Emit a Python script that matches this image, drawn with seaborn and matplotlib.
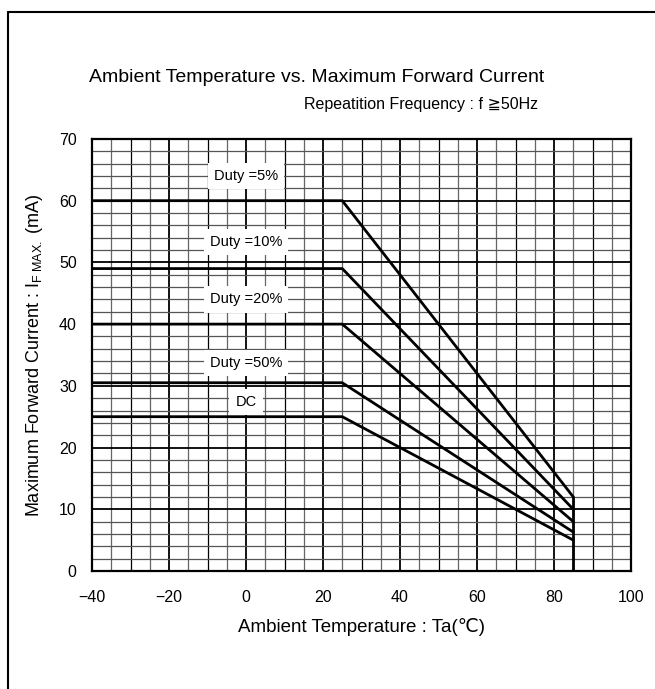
import numpy as np
import pandas as pd
import matplotlib
matplotlib.use('Agg')
import matplotlib.pyplot as plt
from matplotlib.lines import Line2D
import seaborn as sns

sns.set_style('white')
plt.rcParams['font.family'] = ['Liberation Sans', 'DejaVu Sans']
plt.rcParams['mathtext.fontset'] = 'custom'
plt.rcParams['mathtext.rm'] = 'Liberation Sans'
plt.rcParams['mathtext.it'] = 'Liberation Sans'
plt.rcParams['text.color'] = 'black'
plt.rcParams['axes.labelcolor'] = 'black'
plt.rcParams['xtick.color'] = 'black'
plt.rcParams['ytick.color'] = 'black'

#%% Data
series = ['Duty =5%', 'Duty =10%', 'Duty =20%', 'Duty =50%', 'DC']
temp_start = -40
temp_knee = 25
temp_end = 85
current_flat = [60, 49, 40, 30.5, 25]
current_end = [12, 10, 8, 6.3, 5]

x_ticks = [-40, -20, 0, 20, 40, 60, 80, 100]
y_ticks = [0, 10, 20, 30, 40, 50, 60, 70]

rows = []
for name, flat, end in zip(series, current_flat, current_end):
    for t, c in [(temp_start, flat), (temp_knee, flat), (temp_end, end)]:
        rows.append({'Ta': t, 'IF': c, 'series': name})
df = pd.DataFrame(rows)

#%% Figure
fig = plt.figure(figsize=(6.55, 6.89), dpi=100)
ax = fig.add_axes([0.1405, 0.1713, 0.8229, 0.627])

# grid: minor grey, every 10 on x black, majors heavier
for x in np.arange(-35, 100, 5):
    if x % 20 == 0:
        ax.axvline(x, color='black', lw=1.3, zorder=1)
    elif x % 10 == 0:
        ax.axvline(x, color='black', lw=0.9, zorder=1)
    else:
        ax.axvline(x, color='#666666', lw=0.9, zorder=1)
for y in np.arange(2, 70, 2):
    if y % 10 == 0:
        ax.axhline(y, color='black', lw=1.3, zorder=1)
    else:
        ax.axhline(y, color='#555555', lw=0.9, zorder=1)

sns.lineplot(data=df, x='Ta', y='IF', units='series', estimator=None,
             color='black', lw=2.0, ax=ax, zorder=3)
# cut-off at the max temperature
ax.plot([temp_end, temp_end], [0, max(current_end)], color='black', lw=2.0, zorder=3)

# series labels
label_y = [64, 53.3, 44, 33.7, 27.4]
for name, ly in zip(series, label_y):
    ax.text(0, ly, name, ha='center', va='center', fontsize=10.5, zorder=4,
            bbox=dict(facecolor='white', edgecolor='none', pad=4.5))

ax.set_xlim(-40, 100)
ax.set_ylim(0, 70)
ax.set_xticks(x_ticks)
ax.set_yticks(y_ticks)
ax.set_xticklabels([f'{v}'.replace('-', '\u2212') for v in x_ticks])
ax.tick_params(axis='both', length=0, labelsize=11.5)
ax.tick_params(axis='x', pad=14)
ax.tick_params(axis='y', pad=11)
for s in ax.spines.values():
    s.set_color('black')
    s.set_linewidth(1.6)
    s.set_zorder(5)

ax.set_xlabel('Ambient Temperature : Ta(\u2103)', fontsize=13.5, labelpad=9)
ax.set_ylabel(r'Maximum Forward Current : I$_{\rm F\ MAX.}$ (mA)', fontsize=13, labelpad=10)

fig.text(0.483, 0.888, 'Ambient Temperature vs. Maximum Forward Current',
         ha='center', va='center', fontsize=14)
fig.text(0.643, 0.849, 'Repeatition Frequency : f \u226750Hz',
         ha='center', va='center', fontsize=11.5)

# figure frame (left and top edges)
fig.add_artist(Line2D([0.0122, 0.0122], [0, 0.9826], color='black', lw=1.5,
                      transform=fig.transFigure))
fig.add_artist(Line2D([0.0122, 1.0], [0.9826, 0.9826], color='black', lw=1.5,
                      transform=fig.transFigure))

fig.savefig('out.png', dpi=100, facecolor='white')
